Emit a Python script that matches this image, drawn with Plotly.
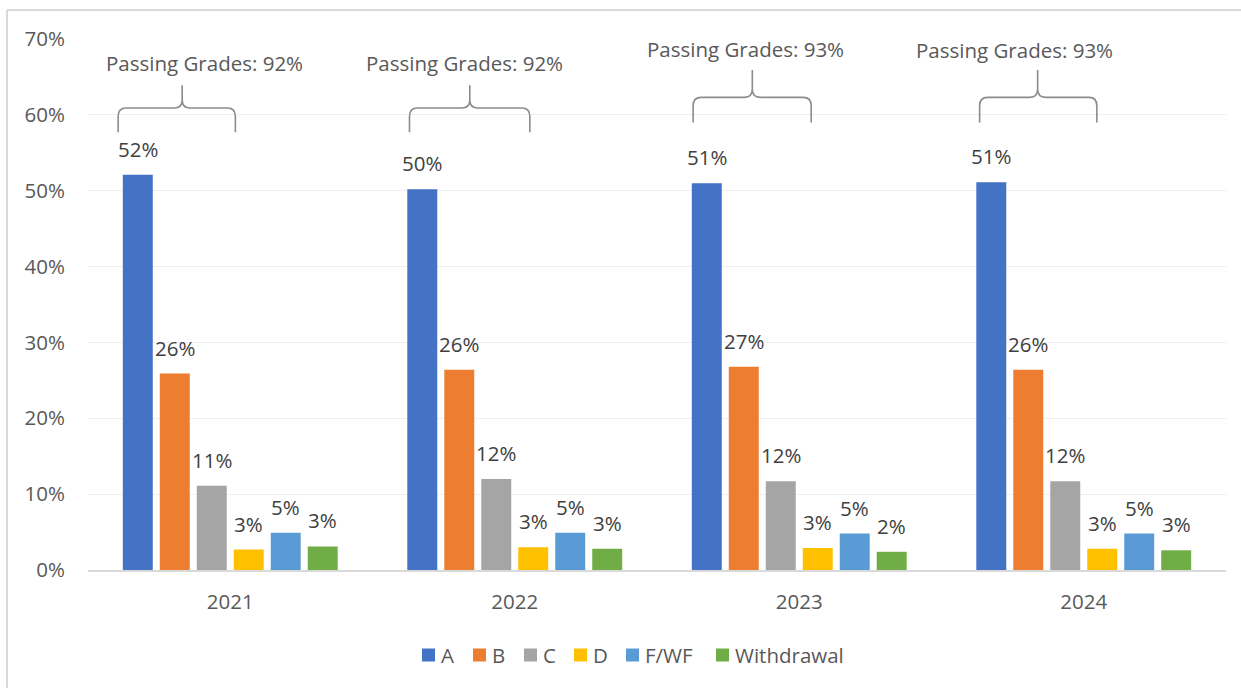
import plotly.graph_objects as go

# Grade shares per year (fractions of all enrolments)
years = ["2021", "2022", "2023", "2024"]
grades = ["A", "B", "C", "D", "F/WF", "Withdrawal"]
share_a = [0.521, 0.502, 0.510, 0.511]
share_b = [0.259, 0.264, 0.268, 0.264]
share_c = [0.111, 0.120, 0.117, 0.117]
share_d = [0.027, 0.030, 0.029, 0.028]
share_f = [0.049, 0.049, 0.048, 0.048]
share_w = [0.031, 0.028, 0.024, 0.026]
passing_labels = ["Passing Grades: 92%", "Passing Grades: 92%",
                  "Passing Grades: 93%", "Passing Grades: 93%"]

series = [share_a, share_b, share_c, share_d, share_f, share_w]
colors = ["#4472C4", "#ED7D31", "#A5A5A5", "#FFC000", "#5B9BD5", "#70AD47"]

FONT = "Open Sans"
FS = 20.5
LABEL_COLOR = "#404040"
TICK_COLOR = "#595959"

W, H = 1241, 688
ML, MR, MT, MB = 88, 15, 39, 118
PW, PH = W - ML - MR, H - MT - MB

fig = go.Figure()
for name, vals, col in zip(grades, series, colors):
    fig.add_trace(go.Bar(
        x=years, y=vals, name=name, marker=dict(color=col, line=dict(width=0)),
        showlegend=False,
    ))

fig.update_layout(
    barmode="group",
    bargap=0.22,
    bargroupgap=0.19,
    width=W, height=H,
    margin=dict(l=ML, r=MR, t=MT, b=MB, autoexpand=False),
    paper_bgcolor="white",
    plot_bgcolor="white",
    font=dict(family=FONT, size=FS, color=TICK_COLOR),
    showlegend=False,
    xaxis=dict(
        showline=True, linecolor="#D9D9D9", linewidth=1.5,
        ticks="", showgrid=False, tickfont=dict(size=FS, color=TICK_COLOR),
        ticklabelstandoff=13, automargin=False,
    ),
    yaxis=dict(
        range=[0, 0.70], dtick=0.10, tickformat=".0%",
        showgrid=True, gridcolor="#EFEFEF", gridwidth=1,
        zeroline=False, showline=False, ticks="",
        tickfont=dict(size=FS, color=TICK_COLOR),
        ticklabelstandoff=22, automargin=False,
    ),
)

# Value labels above every bar, taken from the plotted values
n = len(grades)
group_w = 1 - 0.22
slot = group_w / n
for i, vals in enumerate(series):
    off = -group_w / 2 + slot * (i + 0.5)
    for j, v in enumerate(vals):
        fig.add_annotation(
            x=j + off, y=v, xref="x", yref="y",
            text=f"{round(v * 100):.0f}%", showarrow=False,
            yanchor="bottom", yshift=10,
            font=dict(family=FONT, size=FS, color=LABEL_COLOR),
        )

# Curly braces grouping the passing grades, with their captions
# (left end, tip, right end offsets from the year centre; bottom, middle, top levels;
#  caption x offset and height)
brace_geo = [
    (-0.394, -0.169, 0.018, 0.577, 0.609, 0.639, -0.09, 0.668),
    (-0.370, -0.158, 0.053, 0.577, 0.609, 0.639, -0.175, 0.668),
    (-0.373, -0.165, 0.042, 0.590, 0.623, 0.659, -0.19, 0.687),
    (-0.366, -0.162, 0.046, 0.590, 0.623, 0.659, -0.243, 0.685),
]
rx, ry = 0.028, 0.011
for j, (xl, xt, xr, yb, ym, yt, tx, ty) in enumerate(brace_geo):
    xl, xt, xr = j + xl, j + xt, j + xr
    path = (
        f"M {xl},{yb} L {xl},{ym - ry} Q {xl},{ym} {xl + rx},{ym} "
        f"L {xt - rx},{ym} Q {xt},{ym} {xt},{ym + ry} L {xt},{yt} "
        f"M {xt},{ym + ry} Q {xt},{ym} {xt + rx},{ym} "
        f"L {xr - rx},{ym} Q {xr},{ym} {xr},{ym - ry} L {xr},{yb}"
    )
    fig.add_shape(type="path", path=path, xref="x", yref="y",
                  line=dict(color="#8C8C8C", width=1.6))
    fig.add_annotation(
        x=j + tx, y=ty, xref="x", yref="y", text=passing_labels[j],
        showarrow=False, yanchor="middle",
        font=dict(family=FONT, size=FS, color=TICK_COLOR),
    )


def px_x(px):
    return (px - ML) / PW


def px_y(py):
    return (H - MB - py) / PH


# Legend row: colour swatch followed by its grade name
legend_left = [422, 473, 524, 574, 626, 716]
legend_mid = 655
sw = 13
for name, col, lx in zip(grades, colors, legend_left):
    fig.add_shape(type="rect", xref="paper", yref="paper",
                  x0=px_x(lx), x1=px_x(lx + sw),
                  y0=px_y(legend_mid + sw / 2), y1=px_y(legend_mid - sw / 2),
                  fillcolor=col, line=dict(width=0))
    fig.add_annotation(x=px_x(lx + sw + 4), y=px_y(legend_mid),
                       xref="paper", yref="paper", text=name, showarrow=False,
                       xanchor="left", yanchor="middle",
                       font=dict(family=FONT, size=FS, color=TICK_COLOR))

# Chart-area border (top and left edges)
fig.add_shape(type="line", xref="paper", yref="paper",
              x0=px_x(7), x1=px_x(W + 20), y0=px_y(10), y1=px_y(10),
              line=dict(color="#D9D9D9", width=2))
fig.add_shape(type="line", xref="paper", yref="paper",
              x0=px_x(7), x1=px_x(7), y0=px_y(10), y1=px_y(H + 20),
              line=dict(color="#D9D9D9", width=2))

fig.write_html("out.html")
